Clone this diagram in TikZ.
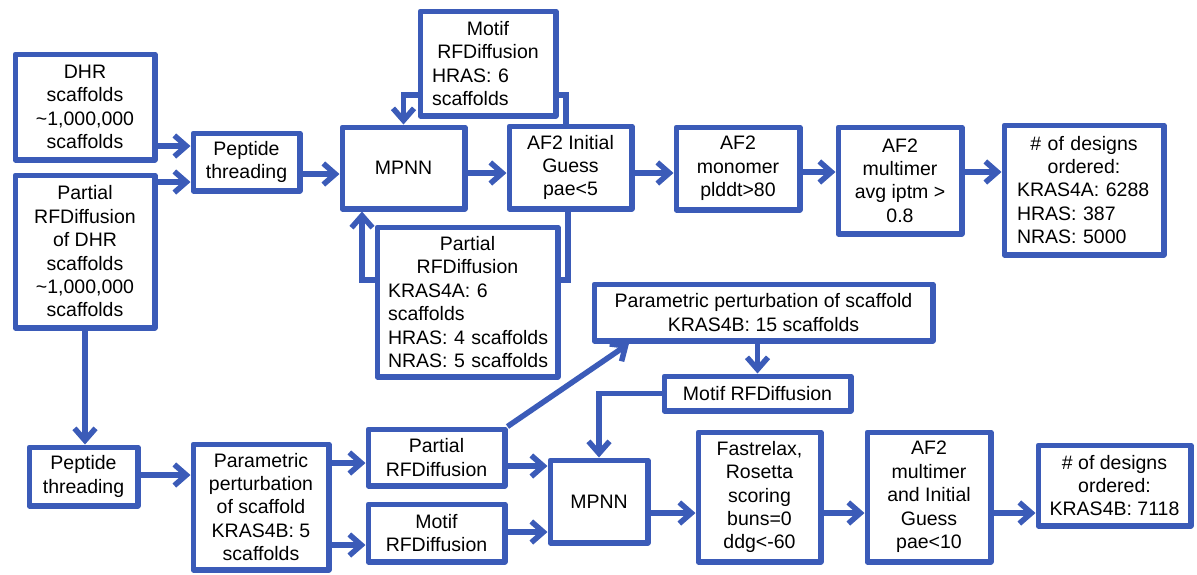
\documentclass[tikz,border=0pt]{standalone}
\usepackage{fontspec}
\setmainfont{Liberation Sans}
\usetikzlibrary{arrows.meta,positioning}
\definecolor{flowblue}{RGB}{59,91,184}
% centred line inside a left-aligned box
\newcommand{\ctrln}[1]{\makebox[\linewidth][c]{#1}}

\begin{document}
\begin{tikzpicture}[x=1pt, y=-1pt,
  box/.style={draw=flowblue, line width=5.5pt, line join=round, align=center, inner sep=0pt, font=\fontsize{19.5}{23.4}\selectfont},
  arr/.style={draw=flowblue, line width=5.5pt, -{Straight Barb[length=12pt,width=21pt]}},
  link/.style={draw=flowblue, line width=5.5pt}]
\path[fill=white,use as bounding box] (0,0) rectangle (1197,574);

% upper pipeline (KRAS4A, HRAS, NRAS)
\node[box,minimum width=139.5pt,minimum height=105.5pt] (dhr) at (85,107) {DHR\\scaffolds\\\textasciitilde1,000,000\\scaffolds};
\node[box,minimum width=139.5pt,minimum height=152.5pt] (pdhr) at (85,251.5) {Partial\\RFDiffusion\\of DHR\\scaffolds\\\textasciitilde1,000,000\\scaffolds};
\node[box,minimum width=106.5pt,minimum height=57.5pt] (thr1) at (246.5,162) {Peptide\\threading};
\node[box,minimum width=122.5pt,minimum height=81.5pt] (mpnn1) at (403.5,168) {MPNN};
\node[box,align=left,text width=112pt,minimum width=135.5pt,minimum height=104.5pt] (motif1) at (488,63.5) {\ctrln{Motif}\\\ctrln{RFDiffusion}\\HRAS: 6\\scaffolds};
\node[box,minimum width=122.5pt,minimum height=82.5pt] (af2i) at (570.5,167.5) {AF2 Initial\\Guess\\pae<5};
\node[box,align=left,text width=159pt,minimum width=180.5pt,minimum height=149.5pt] (part1) at (467.5,302) {\ctrln{Partial}\\\ctrln{RFDiffusion}\\KRAS4A: 6\\scaffolds\\\mbox{HRAS: 4 scaffolds}\\\mbox{NRAS: 5 scaffolds}};
\node[box,minimum width=123.5pt,minimum height=82.5pt] (mono) at (738,168.5) {AF2\\monomer\\plddt>80};
\node[box,minimum width=123.5pt,minimum height=106.5pt] (mult) at (900,180.5) {AF2\\multimer\\avg iptm >\\0.8};
\node[box,align=left,text width=134pt,minimum width=159.5pt,minimum height=129.5pt] (des1) at (1084,190) {\ctrln{\# of designs}\\\ctrln{ordered:}\\KRAS4A: 6288\\HRAS: 387\\NRAS: 5000};

% lower pipeline (KRAS4B)
\node[box,minimum width=108.5pt,minimum height=58.5pt] (thr2) at (83.5,476.5) {Peptide\\threading};
\node[box,minimum width=135.5pt,minimum height=125.5pt] (par5) at (261,507) {Parametric\\perturbation\\of scaffold\\KRAS4B: 5\\scaffolds};
\node[box,minimum width=136.5pt,minimum height=56.5pt] (part2) at (436.5,457.5) {Partial\\RFDiffusion};
\node[box,minimum width=136.5pt,minimum height=57.5pt] (motif2) at (436.5,533) {Motif\\RFDiffusion};
\node[box,minimum width=97.5pt,minimum height=82.5pt] (mpnn2) at (599,501.5) {MPNN};
\node[box,minimum width=338.5pt,minimum height=56.5pt] (par15) at (763.5,312.5) {Parametric perturbation of scaffold\\KRAS4B: 15 scaffolds};
\node[box,minimum width=186.5pt,minimum height=34.5pt] (motif3) at (757.5,393.5) {Motif RFDiffusion};
\node[box,minimum width=122.5pt,minimum height=129.5pt] (fast) at (759.5,497) {Fastrelax,\\Rosetta\\scoring\\buns=0\\ddg<-60};
\node[box,minimum width=123.5pt,minimum height=129.5pt] (mult2) at (929,497) {AF2\\multimer\\and Initial\\Guess\\pae<10};
\node[box,minimum width=152.5pt,minimum height=80.5pt] (des2) at (1114.5,485.5) {\# of designs\\ordered:\\KRAS4B: 7118};

% upper connectors
\draw[arr] ([yshift=-39pt]dhr.east) -- ([yshift=16pt]thr1.west);
\draw[arr] ([yshift=69.5pt]pdhr.east) -- ([yshift=-20pt]thr1.west);
\draw[arr] ([yshift=-12pt]thr1.east) -- ([yshift=-6pt]mpnn1.west);
\draw[arr] ([yshift=-5pt]mpnn1.east) -- ([yshift=-5.5pt]af2i.west);
\draw[arr] ([yshift=-5.5pt]af2i.east) -- ([yshift=-4.5pt]mono.west);
\draw[arr] ([yshift=-3.5pt]mono.east) -- ([yshift=8.5pt]mult.west);
\draw[arr] ([yshift=8.5pt]mult.east) -- ([yshift=18pt]des1.west);
\draw[link] ([xshift=-4.5pt]af2i.north) |- ([yshift=-31.5pt]motif1.east);
\draw[arr] ([yshift=-31.5pt]motif1.west) -| (mpnn1.north);
\draw[link] ([xshift=-2.5pt]af2i.south) |- ([yshift=22pt]part1.east);
\draw[arr] ([yshift=22pt]part1.west) -| ([xshift=-41.5pt]mpnn1.south);
\draw[arr] (pdhr.south) -- (pdhr.south |- thr2.north);

% lower connectors
\draw[arr] ([yshift=1.5pt]thr2.east) -- ([yshift=32pt]par5.west);
\draw[arr] ([yshift=44pt]par5.east) -- ([yshift=-5.5pt]part2.west);
\draw[arr] ([yshift=-38pt]par5.east) -- ([yshift=-12pt]motif2.west);
\draw[arr] ([yshift=-8.5pt]part2.east) -- ([yshift=35.5pt]mpnn2.west);
\draw[arr] ([yshift=1pt]motif2.east) -- ([yshift=-30.5pt]mpnn2.west);
\draw[arr] (part2.north east) -- ([xshift=-134.5pt]par15.south);
\draw[arr] (par15.south -| motif3.north) -- (motif3.north);
\draw[arr] (motif3.west) -| (mpnn2.north);
\draw[arr] ([yshift=-11.5pt]mpnn2.east) -- ([yshift=-16pt]fast.west);
\draw[arr] ([yshift=-16pt]fast.east) -- ([yshift=-16pt]mult2.west);
\draw[arr] ([yshift=-16pt]mult2.east) -- ([yshift=-27.5pt]des2.west);
\end{tikzpicture}
\end{document}
